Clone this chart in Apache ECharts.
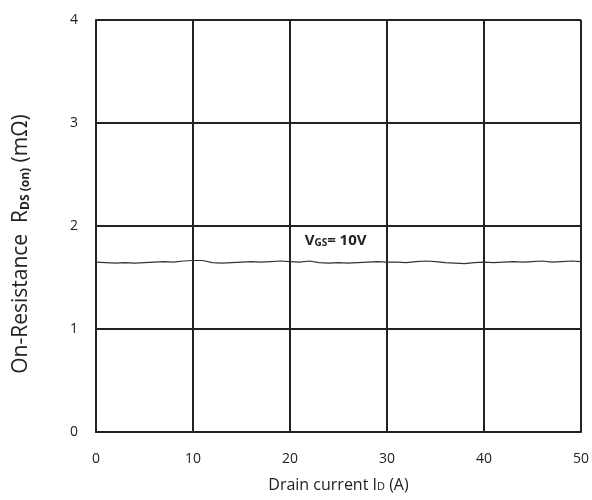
<!DOCTYPE html>
<html><head><meta charset="utf-8">
<script src="https://cdn.jsdelivr.net/npm/echarts@6/dist/echarts.min.js"></script>
<style>html,body{margin:0;padding:0;background:#fff}#c{width:592px;height:500px}</style>
</head><body><div id="c"></div>
<script>
const current = [0,1,2,3,4,5,6,7,8,9,10,11,12,13,14,15,16,17,18,19,20,21,22,23,24,25,26,27,28,29,30,31,32,33,34,35,36,37,38,39,40,41,42,43,44,45,46,47,48,49,50];
const resistance = [1.65,1.645,1.64,1.645,1.64,1.645,1.65,1.655,1.65,1.66,1.665,1.665,1.645,1.64,1.645,1.65,1.655,1.65,1.655,1.66,1.655,1.65,1.66,1.645,1.64,1.645,1.64,1.645,1.65,1.655,1.65,1.65,1.645,1.655,1.66,1.655,1.645,1.64,1.635,1.645,1.65,1.645,1.65,1.655,1.65,1.655,1.66,1.65,1.655,1.66,1.655];
const xTicks = [0,10,20,30,40,50];
const yTicks = [0,1,2,3,4];
const fam = '"Open Sans", "DejaVu Sans", sans-serif';
const chart = echarts.init(document.getElementById('c'));
chart.setOption({
  animation: false,
  grid: {left: 96, right: 10, top: 20, bottom: 68},
  xAxis: {
    type: 'value', min: xTicks[0], max: xTicks[xTicks.length-1], interval: 10,
    axisLine: {lineStyle: {color: '#222', width: 2}},
    axisTick: {show: false},
    splitLine: {lineStyle: {color: '#222', width: 2}},
    axisLabel: {color: '#222', fontSize: 14, fontFamily: fam, margin: 20},
    name: '{a|Drain current I}{s|D}{a| (A)}', nameLocation: 'middle', nameGap: 45,
    nameTextStyle: {rich: {a: {fontSize: 16, fontFamily: fam, color: '#222'}, s: {fontSize: 11, fontFamily: fam, color: '#222', verticalAlign: 'bottom', padding:[0,0,1,0]}}}
  },
  yAxis: {
    type: 'value', min: yTicks[0], max: yTicks[yTicks.length-1], interval: 1,
    axisLine: {lineStyle: {color: '#222', width: 2}},
    axisTick: {show: false},
    splitLine: {lineStyle: {color: '#222', width: 2}},
    axisLabel: {color: '#222', fontSize: 14, fontFamily: fam, margin: 18},
    name: '{a|On-Resistance  R}{s|DS (on)}{a| (mΩ)}', nameLocation: 'middle', nameGap: 64, nameRotate: 90,
    nameTextStyle: {padding: [0, 36, 0, 0], rich: {a: {fontSize: 21, fontFamily: fam, color: '#222'}, s: {fontSize: 12, fontFamily: fam, color: '#222', fontWeight: 'bold', verticalAlign: 'bottom'}}}
  },
  series: [{
    type: 'line', data: current.map((x, i) => [x, resistance[i]]),
    symbol: 'none', lineStyle: {color: '#333', width: 1.2},
    markPoint: {
      symbol: 'circle', symbolSize: 0,
      data: [{coord: [24.7, 1.86]}],
      label: {show: true, position: 'inside', formatter: '{v|V}{s|GS}{v|= 10V}',
        rich: {v: {fontSize: 15, fontWeight: 'bold', fontFamily: fam, color: '#222'}, s: {fontSize: 10, fontWeight: 'bold', fontFamily: fam, color: '#222', verticalAlign: 'bottom'}}}
    }
  }]
});
</script></body></html>
